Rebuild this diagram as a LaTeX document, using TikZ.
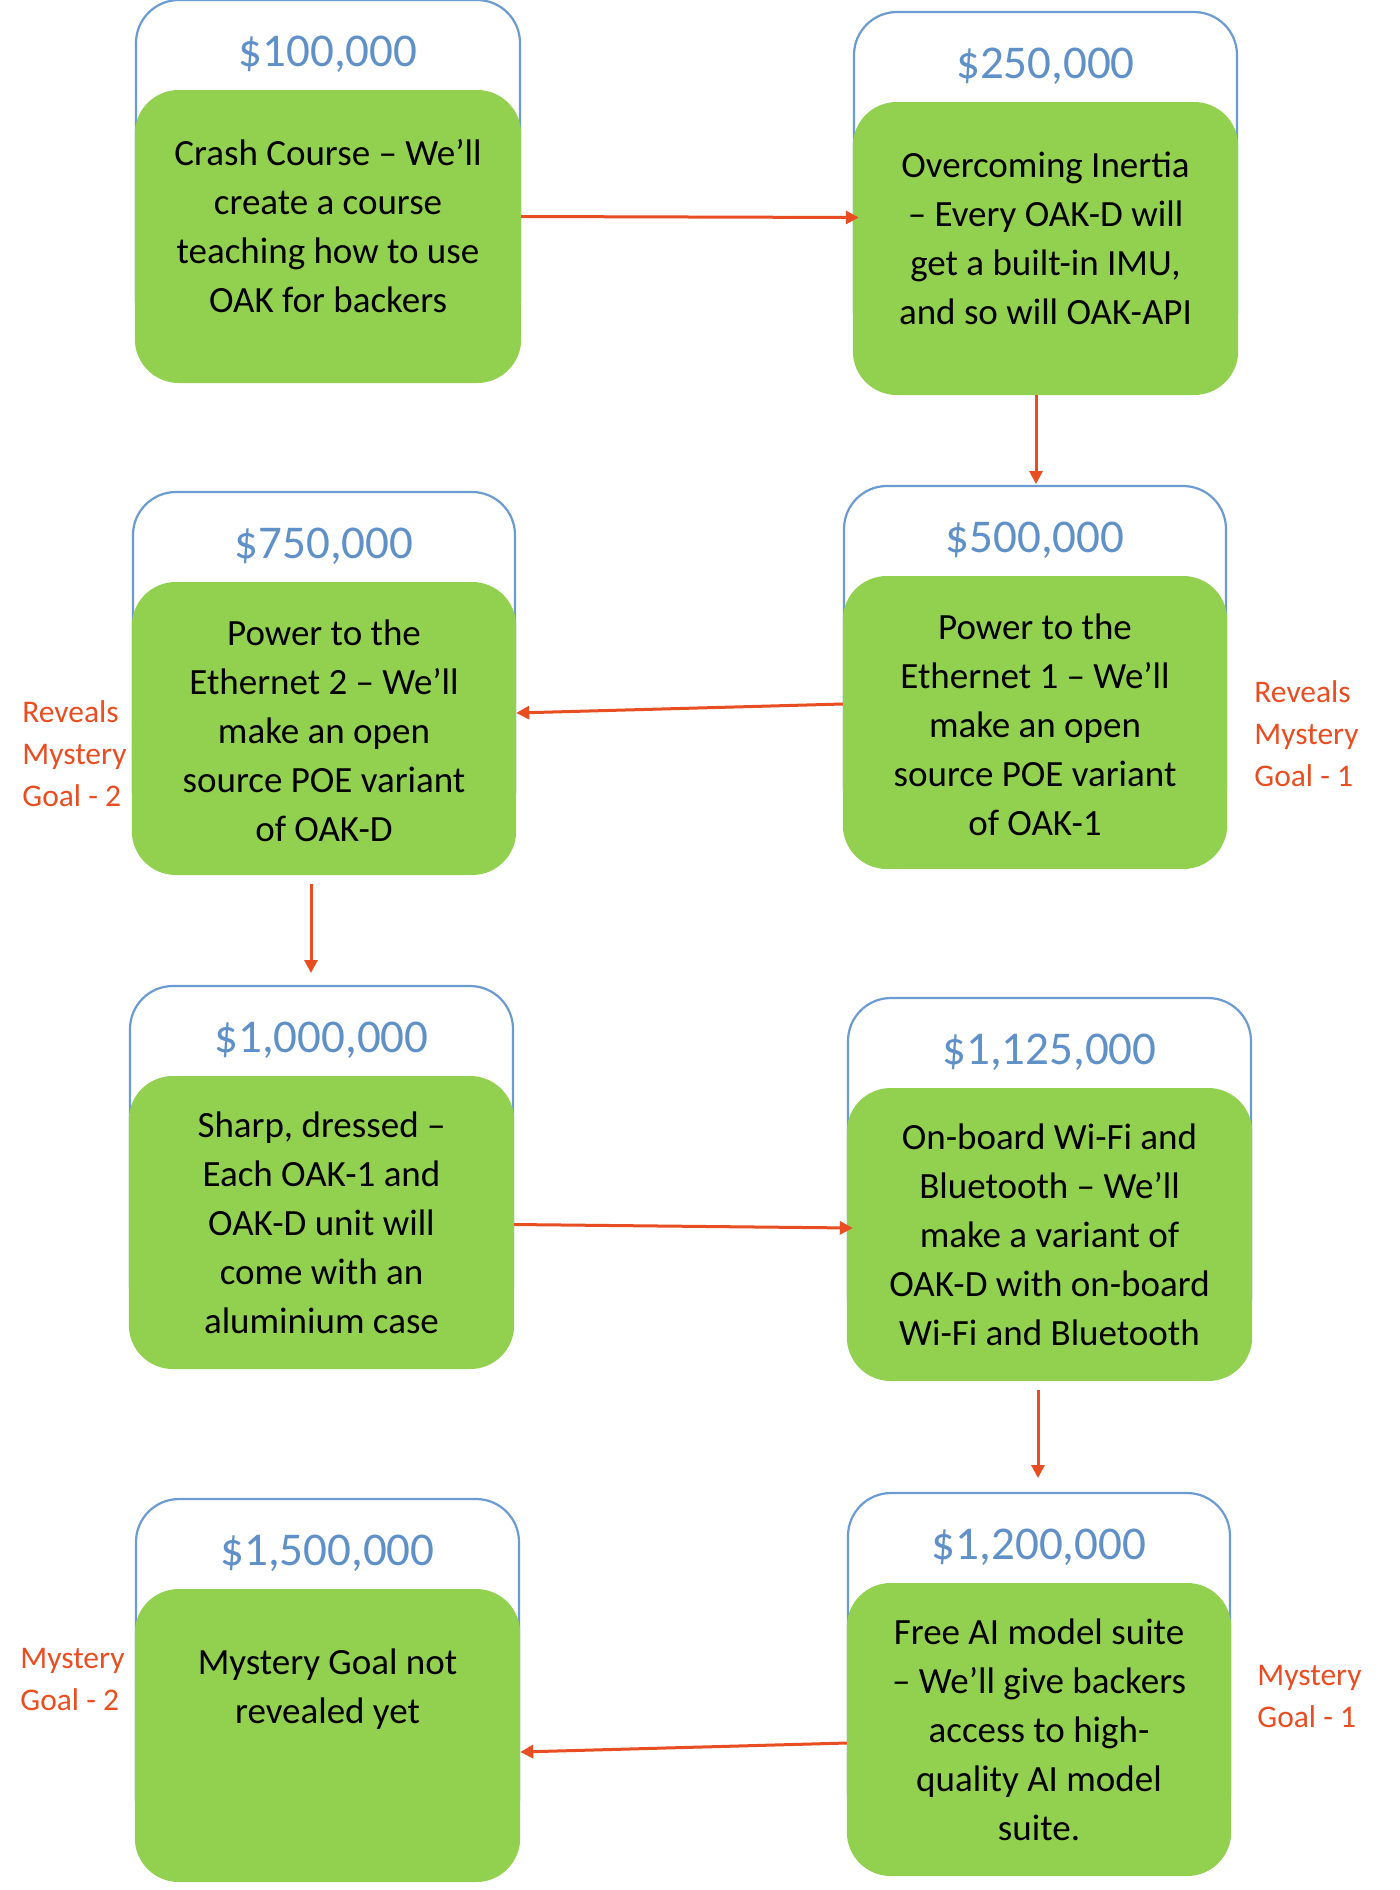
\documentclass[tikz,border=0pt]{standalone}
\usepackage{fontspec}
\setmainfont{Carlito}
\usetikzlibrary{arrows.meta}
\definecolor{goalgreen}{HTML}{92D050}
\definecolor{amountblue}{HTML}{5F91C8}
\definecolor{frameblue}{HTML}{6C9BD2}
\definecolor{arrowred}{HTML}{E84E22}
\tikzset{
  framebox/.style={draw=frameblue, line width=1.1pt, fill=white, rounded corners=21.5pt,
    minimum height=171.5pt, inner sep=0pt, outer sep=0pt, anchor=north},
  greenbox/.style={fill=goalgreen, draw=none, rounded corners=22pt,
    minimum height=146.5pt, inner sep=0pt, outer sep=0pt, anchor=north},
  amounttext/.style={text=amountblue, font=\fontsize{23.5}{28}\selectfont, inner sep=0pt},
  bodytext/.style={text=black, align=center, font=\fontsize{18.5}{24.5}\selectfont, inner sep=0pt},
  sidelabel/.style={text=arrowred, align=left, anchor=west, font=\fontsize{15.75}{21}\selectfont, inner sep=0pt},
  flow/.style={draw=arrowred, line width=1.5pt, -{Triangle[length=6.5pt,width=6.5pt]}}
}
% #1 id, #2 x centre (px), #3 green top (px), #4 width, #5 amount, #6 text offset, #7 text
\newcommand\goalbox[7]{%
  \node[framebox, minimum width=#4] (f#1) at (#2,#3-90) {};
  \node[greenbox, minimum width=#4+1.2pt] (g#1) at (#2,#3) {};
  \node[amounttext] (a#1) at ([yshift=-27pt]f#1.north) {#5};
  \node[bodytext] (t#1) at ([yshift=-#6]g#1.north) {#7};
}
\begin{document}
\begin{tikzpicture}[x=0.5pt,y=-0.5pt]
\fill[white] (0,0) rectangle (1400,1890);
\useasboundingbox (0,0) rectangle (1400,1890);

\goalbox{1}{328}{90}{192pt}{\$100,000}{68pt}{Crash Course – We’ll\\create a course\\teaching how to use\\OAK for backers}
\goalbox{2}{1045.5}{102}{191.5pt}{\$250,000}{68pt}{Overcoming Inertia\\– Every OAK-D will\\get a built-in IMU,\\and so will OAK-API}
\goalbox{3}{324}{582}{191pt}{\$750,000}{74.5pt}{Power to the\\Ethernet 2 – We’ll\\make an open\\source POE variant\\of OAK-D}
\goalbox{4}{1035}{576}{191pt}{\$500,000}{74.5pt}{Power to the\\Ethernet 1 – We’ll\\make an open\\source POE variant\\of OAK-1}
\goalbox{5}{321.5}{1076}{191.5pt}{\$1,000,000}{73.5pt}{Sharp, dressed –\\Each OAK-1 and\\OAK-D unit will\\come with an\\aluminium case}
\goalbox{6}{1049.5}{1088}{201.5pt}{\$1,125,000}{73.5pt}{On-board Wi-Fi and\\Bluetooth – We’ll\\make a variant of\\OAK-D with on-board\\Wi-Fi and Bluetooth}
\goalbox{7}{327.5}{1589}{191.5pt}{\$1,500,000}{50pt}{Mystery Goal not\\revealed yet}
\goalbox{8}{1039}{1583}{191pt}{\$1,200,000}{73.5pt}{Free AI model suite\\– We’ll give backers\\access to high-\\quality AI model\\suite.}

\node[sidelabel] (l1) at (22,754) {Reveals\\Mystery\\Goal - 2};
\node[sidelabel] (l2) at (1254,734) {Reveals\\Mystery\\Goal - 1};
\node[sidelabel] (l3) at (20,1679.5) {Mystery\\Goal - 2};
\node[sidelabel] (l4) at (1257,1696.5) {Mystery\\Goal - 1};

\draw[flow] ([yshift=10pt]g1.east) -- ([yshift=15.5pt,xshift=3pt]g2.west);
\draw[flow] ([xshift=-4.75pt]g2.south) -- ([xshift=0.5pt,yshift=1pt]f4.north);
\draw[flow] ([yshift=9.25pt]g4.west) -- ([yshift=7.75pt]g3.east);
\draw[flow] ([xshift=-6.5pt,yshift=-4.5pt]g3.south) -- ([xshift=-5.25pt,yshift=6.5pt]f5.north);
\draw[flow] ([yshift=-1pt]g5.east) -- ([yshift=3.25pt,xshift=3pt]g6.west);
\draw[flow] ([xshift=-5.75pt,yshift=-4.5pt]g6.south) -- ([xshift=-0.5pt,yshift=7.5pt]f8.north);
\draw[flow] ([yshift=-6.75pt]g8.west) -- ([yshift=-8.25pt]g7.east);
\end{tikzpicture}
\end{document}
